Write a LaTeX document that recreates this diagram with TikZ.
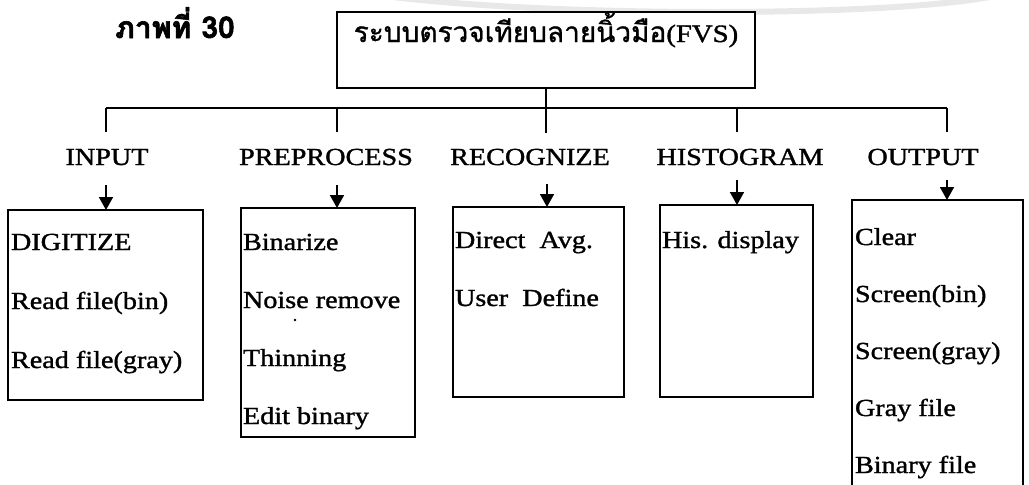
\documentclass[tikz,border=0pt]{standalone}
\usepackage{fontspec}
\setmainfont[FakeStretch=1.15,FakeBold=1.3]{Liberation Serif}
\newfontfamily\thaifont[Script=Thai,FakeBold=1.0]{Loma}
\newfontfamily\thaibold[Script=Thai,FakeBold=2.0]{Loma}
\usetikzlibrary{arrows.meta}
\begin{document}
\begin{tikzpicture}[x=1pt,y=-1pt,
  every node/.style={inner sep=0pt, outer sep=0pt},
  boxline/.style={draw=black, line width=1.6pt},
  rootbox/.style={boxline, rectangle, minimum width=418pt, minimum height=76pt},
  itembox/.style={boxline, rectangle, anchor=north west},
  lbl/.style={anchor=base, font=\fontsize{24.5}{29}\selectfont},
  item/.style={anchor=base west, font=\fontsize{24.5}{29}\selectfont},
  conn/.style={line width=1.6pt},
  arr/.style={line width=1.8pt, -{Triangle[length=13pt,width=14pt]}}
]
\useasboundingbox (0,0) rectangle (1029,485);
\clip (0,0) rectangle (1029,485);

% faint watermark arc
\draw[gray!18, line width=6pt] (393,-3) .. controls (560,17) and (880,17) .. (990,-3);

% title
\node[anchor=base] (fig) at (175,38) {\thaibold\bfseries\fontsize{30}{34}\selectfont ภาพที่ 30};

% root
\node[rootbox, fill=white] (root) at (546,50) {};
\node[anchor=base] (roottext) at (546,42) {\thaifont\fontsize{28}{32}\selectfont ระบบตรวจเทียบลายนิ้วมือ{\rmfamily\fontsize{25}{28}\selectfont(FVS)}};

% bus coordinates
\coordinate (j1) at (106,108);
\coordinate (j2) at (337,108);
\coordinate (j3) at (546,108);
\coordinate (j4) at (737,108);
\coordinate (j5) at (947,108);
\coordinate (t1) at (106,132);
\coordinate (t2) at (337,132);
\coordinate (t3) at (546,133);
\coordinate (t4) at (737,132);
\coordinate (t5) at (947,132);

\draw[conn] (root.south) -- (j3);
\draw[conn] (j1) -- (j5);
\draw[conn] (j1) -- (t1);
\draw[conn] (j2) -- (t2);
\draw[conn] (j3) -- (t3);
\draw[conn] (j4) -- (t4);
\draw[conn] (j5) -- (t5);

% labels
\node[lbl] (lin)  at (107,165) {INPUT};
\node[lbl] (lpre) at (326,165) {PREPROCESS};
\node[lbl] (lrec) at (530,165) {RECOGNIZE};
\node[lbl] (lhis) at (740,165) {HISTOGRAM};
\node[lbl] (lout) at (923,165) {OUTPUT};

% boxes
\node[itembox, minimum width=195pt, minimum height=190pt] (bin)  at (8,210) {};
\node[itembox, minimum width=174pt, minimum height=229pt] (bpre) at (241,208) {};
\node[itembox, minimum width=171pt, minimum height=190pt] (brec) at (453,207) {};
\node[itembox, minimum width=153pt, minimum height=192pt] (bhis) at (660,205) {};
\node[itembox, minimum width=171pt, minimum height=300pt] (bout) at (852,200) {};

% arrows
\coordinate (a1) at (106,185);
\coordinate (a2) at (337,185);
\coordinate (a3) at (547,184);
\coordinate (a4) at (737,180);
\coordinate (a5) at (947,180);
\draw[arr] (a1) -- (bin.north -| a1);
\draw[arr] (a2) -- (bpre.north -| a2);
\draw[arr] (a3) -- (brec.north -| a3);
\draw[arr] (a4) -- (bhis.north -| a4);
\draw[arr] (a5) -- (bout.north -| a5);

% items
\node[item] (i11) at (11,250) {DIGITIZE};
\node[item] (i12) at (11,309) {Read file(bin)};
\node[item] (i13) at (11,368) {Read file(gray)};

\node[item] (i21) at (243,250) {Binarize};
\node[item] (i22) at (243,308) {Noise remove};
\node[item] (i23) at (243,366) {Thinning};
\node[item] (i24) at (243,424) {Edit binary};

\node[item] (i31) at (455,248) {Direct\ \ Avg.};
\node[item] (i32) at (455,306) {User\ \ Define};

\node[item] (i41) at (662,248) {His. display};

\node[item] (i51) at (855,245) {Clear};
\node[item] (i52) at (855,302) {Screen(bin)};
\node[item] (i53) at (855,359) {Screen(gray)};
\node[item] (i54) at (855,416) {Gray file};
\node[item] (i55) at (855,473) {Binary file};

% speck
\fill (295,320) circle (1.3pt);
\end{tikzpicture}
\end{document}
